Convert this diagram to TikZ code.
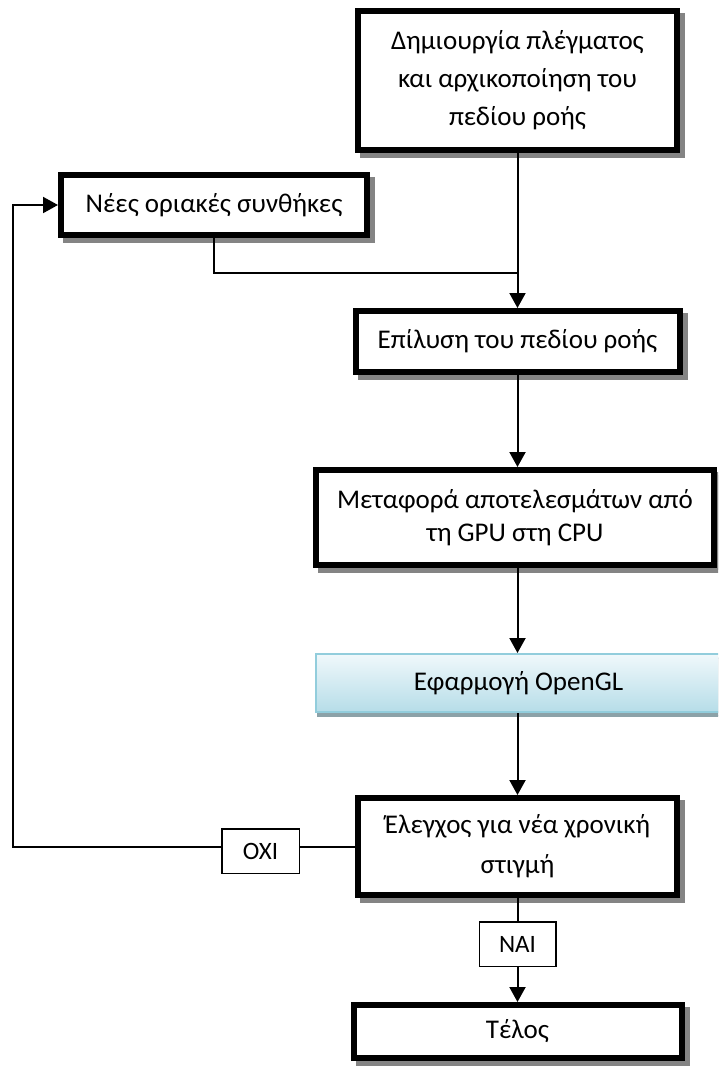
\documentclass[tikz,border=0pt]{standalone}
\usepackage{fontspec}
\setmainfont{Carlito}
\usetikzlibrary{arrows.meta}

\definecolor{shadowgray}{RGB}{132,132,132}
\definecolor{gltop}{RGB}{240,248,251}
\definecolor{glbottom}{RGB}{182,221,232}
\definecolor{glborder}{RGB}{146,205,220}
\definecolor{glshadow}{RGB}{140,162,168}

\begin{document}
\begin{tikzpicture}[x=1pt,y=-1pt,
  every node/.style={font=\fontsize{27}{38}\selectfont, align=center, inner sep=0pt},
  stepbox/.style={draw=black, line width=6pt, fill=white,
    preaction={draw=shadowgray, fill=shadowgray, line width=6pt,
      transform canvas={shift={(5pt,-5pt)}}}},
  glbox/.style={draw=glborder, line width=2pt, top color=gltop, bottom color=glbottom,
    preaction={draw=glshadow, fill=glshadow, line width=2pt,
      transform canvas={shift={(2pt,-4pt)}}}},
  tagbox/.style={draw=black, line width=1.5pt, fill=white, font=\fontsize{25}{30}\selectfont},
  link/.style={line width=2pt},
  arr/.style={link, -{Triangle[width=16pt,length=15pt]}}]

\path[use as bounding box, clip] (0,0) rectangle (718,1066);

% process steps
\node[stepbox, minimum width=319pt, minimum height=139pt] (init) at (517.5,80.5)
  {Δημιουργία πλέγματος\\και αρχικοποίηση του\\πεδίου ροής};
\node[stepbox, minimum width=306pt, minimum height=60pt] (bc) at (214,205)
  {Νέες οριακές συνθήκες};
\node[stepbox, minimum width=324pt, minimum height=61pt] (solve) at (517.5,341.5)
  {Επίλυση του πεδίου ροής};
\node[stepbox, minimum width=398pt, minimum height=95pt, font=\fontsize{27}{33}\selectfont] (copy) at (515,517.5)
  {Μεταφορά αποτελεσμάτων από\\τη GPU στη CPU};
\node[glbox, minimum width=405pt, minimum height=58pt] (gl) at (518.5,683)
  {Εφαρμογή OpenGL};
\node[stepbox, minimum width=319pt, minimum height=97pt, font=\fontsize{27}{40}\selectfont] (check) at (517.5,846.5)
  {Έλεγχος για νέα χρονική\\στιγμή};
\node[stepbox, minimum width=328pt, minimum height=53pt] (stop) at (517.5,1031.5)
  {Τέλος};
\node[tagbox, minimum width=76.5pt, minimum height=44.5pt] (yes) at (517.5,944) {ΝΑΙ};

% connectors
\coordinate (join) at (init.south |- 0,273);
\coordinate (fb) at (13,0);
\draw[arr] (init.south) -- (init.south |- solve.north);
\draw[link] (bc.south) |- (join);
\draw[arr] (solve.south) -- (solve.south |- copy.north);
\draw[arr] (copy.south -| solve.south) -- (solve.south |- gl.north);
\draw[arr] (gl.south -| solve.south) -- (solve.south |- check.north);
\draw[link] (check.south) -- (yes.north);
\draw[arr] (yes.south) -- (stop.north);
\draw[arr] (check.west) -| (fb |- bc.west) -- (bc.west);

\node[tagbox, minimum width=77.5pt, minimum height=44.5pt] (no) at (260.5,851) {ΟΧΙ};
\end{tikzpicture}
\end{document}
